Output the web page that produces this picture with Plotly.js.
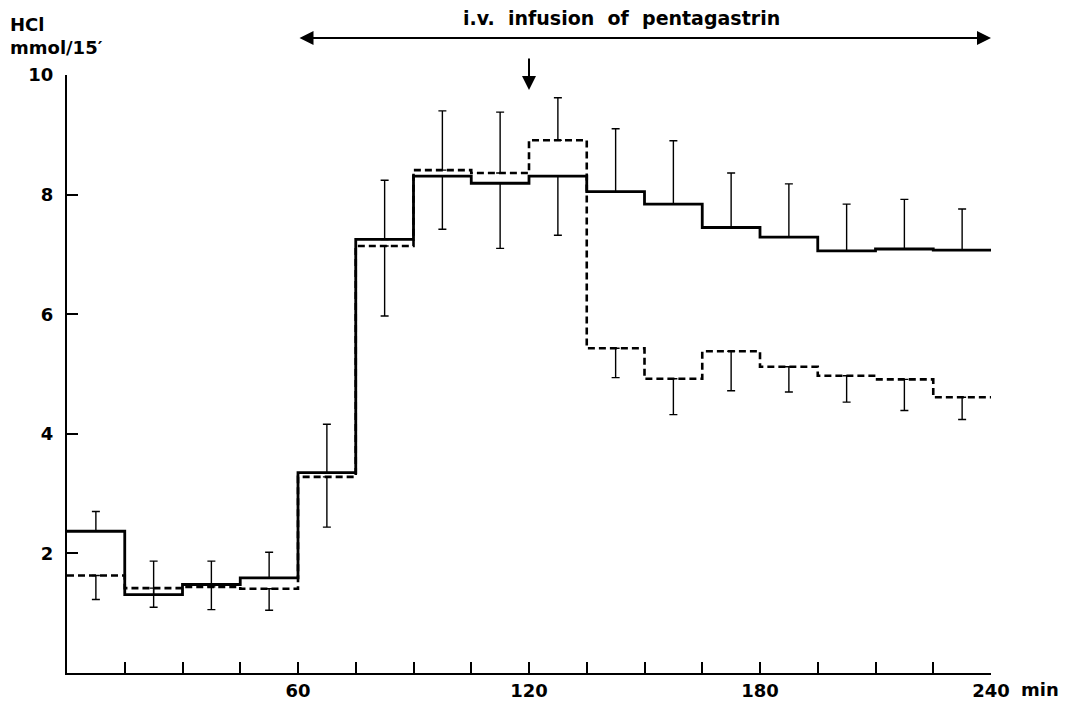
<!DOCTYPE html>
<html>
<head>
<meta charset="utf-8">
<script src="https://cdn.plot.ly/plotly-3.0.1.min.js"></script>
<style>
html, body { margin: 0; padding: 0; background: #fff; }
#chart { width: 1067px; height: 704px; }
</style>
</head>
<body>
<div id="chart"></div>
<script>
// Time (min): step edges and midpoints of the 15-min collection periods
const timeEdges = [0, 15, 30, 45, 60, 75, 90, 105, 120, 135, 150, 165, 180, 195, 210, 225, 240];
const timeMid = [7.5, 22.5, 37.5, 52.5, 67.5, 82.5, 97.5, 112.5, 127.5, 142.5, 157.5, 172.5, 187.5, 202.5, 217.5, 232.5];

// HCl output, mmol/15 min — solid series
const solidHCl = [2.37, 1.31, 1.48, 1.59, 3.35, 7.25, 8.31, 8.19, 8.31, 8.05, 7.84, 7.45, 7.29, 7.06, 7.09, 7.07];
const solidErrUp = [0.33, 0.56, 0.39, 0.43, 0.81, 0.99, 0, 0, 0, 1.05, 1.06, 0.91, 0.89, 0.78, 0.83, 0.69];
const solidErrDown = [0, 0, 0, 0, 0, 0, 0.89, 1.09, 0.99, 0, 0, 0, 0, 0, 0, 0];

// HCl output, mmol/15 min — dashed series
const dashedHCl = [1.63, 1.42, 1.44, 1.41, 3.28, 7.14, 8.41, 8.36, 8.91, 5.43, 4.92, 5.38, 5.12, 4.97, 4.91, 4.61];
const dashedErrUp = [0, 0, 0, 0, 0, 0, 0.99, 1.02, 0.71, 0, 0, 0, 0, 0, 0, 0];
const dashedErrDown = [0.40, 0.32, 0.38, 0.36, 0.84, 1.17, 0, 0, 0, 0.49, 0.60, 0.66, 0.42, 0.44, 0.52, 0.37];

// Axis ticks
const xTickVals = [15, 30, 45, 60, 75, 90, 105, 120, 135, 150, 165, 180, 195, 210, 225, 240];
const xTickText = ['', '', '', '60', '', '', '', '120', '', '', '', '180', '', '', '', '240'];
const yTickVals = [2, 4, 6, 8, 10];
const yTickText = ['2', '4', '6', '8', '10'];

const FONT = 'DejaVu Sans, Arial, sans-serif';
const BOLD = { family: FONT, size: 18, color: '#000', weight: 'bold' };

function stepY(arr) { return arr.concat([arr[arr.length - 1]]); }

const traces = [
  {
    x: timeEdges, y: stepY(solidHCl), type: 'scatter', mode: 'lines',
    line: { shape: 'hv', color: '#000', width: 2.8 }, hoverinfo: 'skip', showlegend: false
  },
  {
    x: timeEdges, y: stepY(dashedHCl), type: 'scatter', mode: 'lines',
    line: { shape: 'hv', color: '#000', width: 2.6, dash: '7px,4px' }, hoverinfo: 'skip', showlegend: false
  },
  {
    x: timeMid, y: solidHCl, type: 'scatter', mode: 'markers',
    marker: { size: 1, color: 'rgba(0,0,0,0)' },
    error_y: { type: 'data', symmetric: false, array: solidErrUp, arrayminus: solidErrDown,
               color: '#000', thickness: 1.4, width: 4 },
    hoverinfo: 'skip', showlegend: false
  },
  {
    x: timeMid, y: dashedHCl, type: 'scatter', mode: 'markers',
    marker: { size: 1, color: 'rgba(0,0,0,0)' },
    error_y: { type: 'data', symmetric: false, array: dashedErrUp, arrayminus: dashedErrDown,
               color: '#000', thickness: 1.4, width: 4 },
    hoverinfo: 'skip', showlegend: false
  }
];

const layout = {
  width: 1067, height: 704,
  margin: { l: 67, r: 76, t: 75, b: 31 },
  paper_bgcolor: '#fff', plot_bgcolor: '#fff',
  showlegend: false,
  font: BOLD,
  xaxis: {
    range: [0, 240], showgrid: false, zeroline: false,
    showline: true, linecolor: '#000', linewidth: 2.2,
    ticks: 'inside', ticklen: 11, tickwidth: 2, tickcolor: '#000',
    tickmode: 'array', tickvals: xTickVals, ticktext: xTickText,
    tickfont: BOLD, ticklabelstandoff: 0, fixedrange: true
  },
  yaxis: {
    range: [0, 10], showgrid: false, zeroline: false,
    showline: true, linecolor: '#000', linewidth: 2.2,
    ticks: 'inside', ticklen: 11, tickwidth: 2, tickcolor: '#000',
    tickmode: 'array', tickvals: yTickVals, ticktext: yTickText,
    tickfont: BOLD, ticklabelstandoff: 8, fixedrange: true
  },
  annotations: [
    {
      text: 'HCl<br>mmol/15′', xref: 'paper', yref: 'paper',
      x: -0.064, y: 1.106, xanchor: 'left', yanchor: 'top', align: 'left',
      showarrow: false, font: { family: FONT, size: 18, color: '#000', weight: 'bold' }
    },
    {
      text: 'min', xref: 'x', yref: 'paper', x: 240, y: -0.028,
      xanchor: 'left', yanchor: 'middle', xshift: 28, showarrow: false, font: BOLD
    },
    {
      text: 'i.v.  infusion  of  pentagastrin', xref: 'x', yref: 'paper',
      x: 144, y: 1.095, xanchor: 'center', yanchor: 'middle', showarrow: false,
      font: { family: FONT, size: 19, color: '#000', weight: 'bold' }
    },
    {
      text: '', xref: 'x', yref: 'paper', x: 240, y: 1.062,
      axref: 'x', ax: 60, ayref: 'pixel', ay: 0,
      showarrow: true, arrowhead: 2, arrowside: 'end+start', arrowsize: 1.4,
      arrowwidth: 2, arrowcolor: '#000', standoff: 0, startstandoff: 0
    },
    {
      text: '', xref: 'x', yref: 'paper', x: 120, y: 0.975,
      axref: 'pixel', ax: 0, ayref: 'pixel', ay: -33,
      showarrow: true, arrowhead: 2, arrowsize: 1.4,
      arrowwidth: 2, arrowcolor: '#000', standoff: 0
    }
  ]
};

Plotly.newPlot('chart', traces, layout, { staticPlot: true, displayModeBar: false });
</script>
</body>
</html>
